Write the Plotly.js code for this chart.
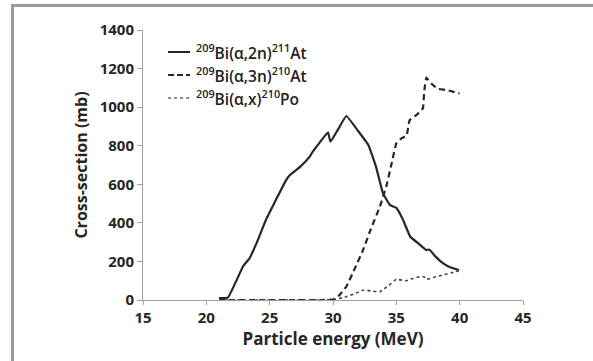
<!DOCTYPE html>
<html>
<head>
<meta charset="utf-8">
<script src="https://cdn.plot.ly/plotly-3.0.1.min.js"></script>
<style>
html,body{margin:0;padding:0;background:#fff;}
#wrap{position:relative;width:593px;height:361px;overflow:hidden;}
#frame{position:absolute;left:11px;top:4px;width:600px;height:400px;border-left:3px solid #9a9a9a;border-top:3px solid #9a9a9a;pointer-events:none;z-index:5;}
#chart{position:absolute;left:0;top:0;width:593px;height:361px;}
</style>
</head>
<body>
<div id="wrap"><div id="chart"></div><div id="frame"></div></div>
<script>
// Bi-209(alpha,2n)At-211
const energy2n = [21.0, 21.7, 22.3, 22.9, 23.2, 23.4, 24.0, 24.7, 25.5, 26.3, 26.6, 27.4, 28.16, 28.4, 28.9, 29.6, 29.8, 30.4, 31.05, 32.0, 32.8, 33.4, 33.95, 34.5, 35.0, 35.5, 36.1, 36.8, 37.37, 37.6, 38.1, 38.7, 39.3, 39.95];
const xs2n = [10, 12, 90, 175, 200, 215, 300, 415, 520, 622, 648, 690, 743, 769, 812, 870, 821, 885, 954, 875, 803, 690, 553, 492, 478, 420, 328, 290, 259, 262, 225, 190, 168, 155];
// Bi-209(alpha,3n)At-210
const energy3n = [21.0, 23.0, 25.0, 27.0, 29.0, 30.0, 30.5, 31.05, 31.7, 32.37, 33.0, 33.7, 34.2, 34.6, 35.0, 35.4, 35.8, 36.05, 36.6, 37.1, 37.2, 37.37, 37.8, 38.3, 38.95, 40.0];
const xs3n = [0, 0, 0, 0, 0, 2, 25, 69, 160, 259, 370, 484, 587, 700, 812, 838, 850, 933, 960, 994, 1080, 1153, 1120, 1095, 1089, 1071];
// Bi-209(alpha,x)Po-210
const energyPo = [21.0, 23.0, 25.0, 27.0, 29.0, 30.0, 30.5, 31.05, 31.8, 32.4, 33.0, 33.7, 34.4, 35.0, 35.8, 36.3, 36.84, 37.2, 37.37, 38.0, 38.68, 39.3, 39.95];
const xsPo = [0, 0, 0, 0, 0, 2, 8, 17, 35, 52, 47, 43, 75, 107, 100, 112, 121, 120, 107, 118, 130, 140, 152];

const xTicks = [15, 20, 25, 30, 35, 40, 45];
const yTicks = [0, 200, 400, 600, 800, 1000, 1200, 1400];
const names = ['<sup>209</sup>Bi(α,2n)<sup>211</sup>At', '<sup>209</sup>Bi(α,3n)<sup>210</sup>At', '<sup>209</sup>Bi(α,x)<sup>210</sup>Po'];

const ink = '#262626';
const traces = [
  {x: energy2n, y: xs2n, mode: 'lines', line: {color: ink, width: 2.2, shape: 'spline', smoothing: 0.3}, name: names[0], showlegend: false},
  {x: energy3n, y: xs3n, mode: 'lines', line: {color: ink, width: 2.2, dash: '6px,4px', shape: 'spline', smoothing: 0.3}, name: names[1], showlegend: false},
  {x: energyPo, y: xsPo, mode: 'lines', line: {color: '#444', width: 1.6, dash: 'dot', shape: 'spline', smoothing: 0.3}, name: names[2], showlegend: false}
];

const legY = [0.9185, 0.8333, 0.748];
const legDash = ['solid', '6px,3px', 'dot'];
const legW = [2, 2, 1.5];
const shapes = [], annotations = [];
for (let i = 0; i < 3; i++) {
  shapes.push({type: 'line', xref: 'paper', yref: 'paper', x0: 0.066, x1: 0.124, y0: legY[i], y1: legY[i],
    line: {color: i === 2 ? '#666' : ink, width: legW[i], dash: legDash[i]}});
  annotations.push({xref: 'paper', yref: 'paper', x: 0.133, y: legY[i], xanchor: 'left', yanchor: 'middle',
    text: names[i], showarrow: false, font: {family: 'Open Sans, sans-serif', size: 15.5, color: '#222', weight: 600}});
}

const axisFont = {family: 'Open Sans, sans-serif', size: 15, color: '#262626', weight: 'bold'};
const layout = {
  width: 593, height: 361,
  margin: {l: 143, r: 70, t: 30, b: 61},
  paper_bgcolor: '#fff', plot_bgcolor: '#fff',
  showlegend: false,
  xaxis: {range: [15, 45], tickvals: xTicks, ticktext: xTicks.map(String), showgrid: false, zeroline: false,
    showline: true, linecolor: '#a0a0a0', linewidth: 1, ticks: 'outside', ticklen: 4, tickcolor: '#a0a0a0',
    tickfont: axisFont,
    title: {text: '<b>Particle energy (MeV)</b>', font: {family: 'Open Sans, sans-serif', size: 17, color: '#262626'}, standoff: 5}},
  yaxis: {range: [0, 1400], tickvals: yTicks, ticktext: yTicks.map(String), showgrid: false, zeroline: false,
    showline: true, linecolor: '#a0a0a0', linewidth: 1, ticks: 'outside', ticklen: 5, tickcolor: '#a0a0a0',
    tickfont: axisFont,
    title: {text: '<b>Cross-section (mb)</b>', font: {family: 'Open Sans, sans-serif', size: 16, color: '#262626'}, standoff: 8}},
  shapes: shapes,
  annotations: annotations
};
Plotly.newPlot('chart', traces, layout, {staticPlot: true, displayModeBar: false});
</script>
</body>
</html>
